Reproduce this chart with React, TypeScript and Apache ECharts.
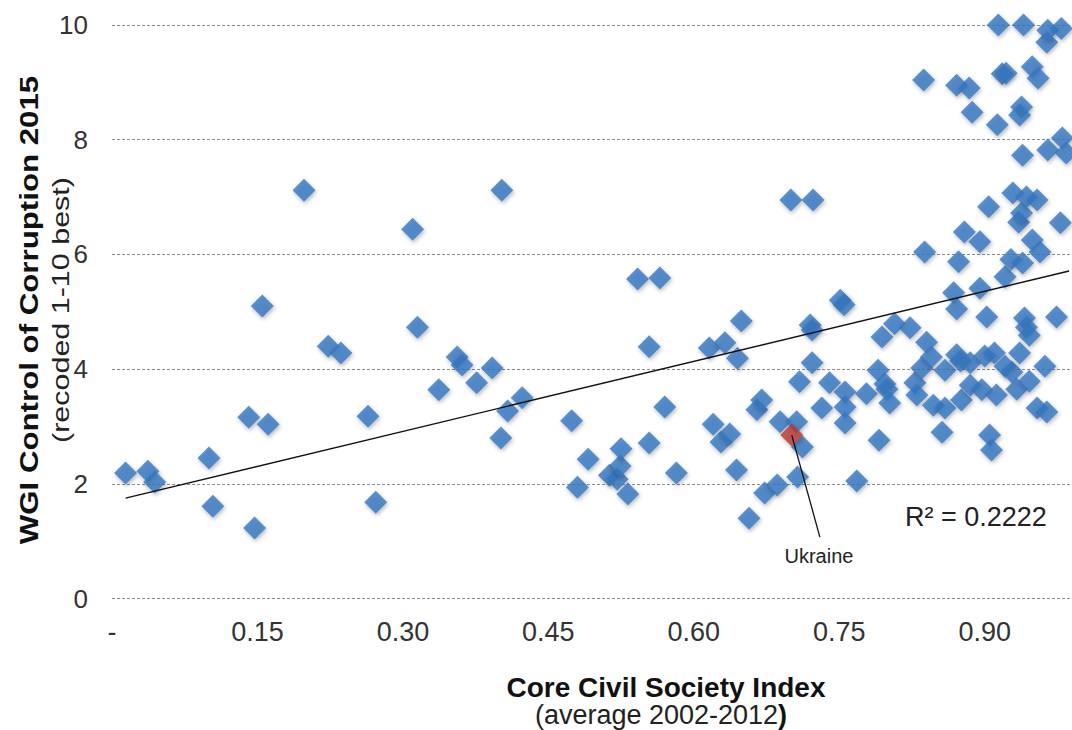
import React, { useEffect, useRef } from "react";
import * as echarts from "echarts";

// Core Civil Society Index (average 2002-2012)
const civilSociety = [
  0.014, 0.037, 0.044, 0.100, 0.104, 0.141, 0.147, 0.155, 0.161, 0.198,
  0.223, 0.236, 0.264, 0.272, 0.310, 0.315, 0.337, 0.356, 0.361, 0.376,
  0.392, 0.401, 0.402, 0.408, 0.423, 0.474, 0.480, 0.491, 0.513, 0.521,
  0.524, 0.525, 0.532, 0.542, 0.554, 0.554, 0.565, 0.570, 0.582, 0.616,
  0.620, 0.628, 0.632, 0.637, 0.644, 0.645, 0.649, 0.657, 0.665, 0.670,
  0.673, 0.686, 0.689, 0.706, 0.707, 0.709, 0.712, 0.720, 0.722, 0.722,
  0.700, 0.723, 0.732, 0.740, 0.751, 0.755, 0.756, 0.756, 0.756, 0.768,
  0.778, 0.790, 0.791, 0.794, 0.797, 0.799, 0.802, 0.807, 0.823, 0.828,
  0.830, 0.835, 0.837, 0.838, 0.840, 0.845, 0.847, 0.856, 0.859, 0.859,
  0.868, 0.871, 0.871, 0.871, 0.873, 0.875, 0.876, 0.879, 0.884, 0.885,
  0.885, 0.887, 0.895, 0.895, 0.897, 0.900, 0.902, 0.905, 0.907, 0.910,
  0.912, 0.913, 0.914, 0.904, 0.918, 0.922, 0.921, 0.921, 0.927, 0.928,
  0.929, 0.933, 0.935, 0.936, 0.938, 0.938, 0.936, 0.939, 0.939, 0.940,
  0.941, 0.943, 0.943, 0.946, 0.946, 0.949, 0.954, 0.955, 0.949, 0.957,
  0.954, 0.962, 0.964, 0.964, 0.965, 0.965, 0.974, 0.978, 0.979, 0.980,
  0.984,
];

// WGI Control of Corruption 2015 (recoded 1-10 best)
const corruption = [
  2.19, 2.22, 2.03, 2.45, 1.61, 3.16, 1.23, 5.10, 3.04, 7.12,
  4.40, 4.28, 3.18, 1.68, 6.44, 4.73, 3.64, 4.21, 4.07, 3.76,
  4.02, 2.80, 7.12, 3.27, 3.50, 3.10, 1.94, 2.43, 2.15, 2.08,
  2.31, 2.61, 1.82, 5.57, 4.39, 2.71, 5.59, 3.34, 2.19, 4.37,
  3.04, 2.73, 4.46, 2.87, 2.24, 4.19, 4.84, 1.40, 3.29, 3.46,
  1.84, 1.98, 3.08, 3.08, 2.12, 3.78, 2.64, 4.77, 4.68, 4.11,
  6.95, 6.95, 3.32, 3.76, 5.20, 5.12, 3.60, 3.34, 3.06, 2.05,
  3.57, 3.98, 2.76, 4.56, 3.74, 3.65, 3.41, 4.79, 4.72, 3.76,
  3.55, 4.02, 9.04, 6.04, 4.47, 4.21, 3.37, 2.90, 3.98, 3.32,
  5.33, 8.95, 5.05, 4.25, 5.87, 4.14, 3.46, 6.39, 8.90, 4.11,
  3.72, 8.48, 6.22, 5.41, 3.64, 4.23, 4.91, 2.85, 2.59, 4.28,
  3.55, 8.26, 10.0, 6.83, 9.15, 9.16, 5.61, 4.05, 5.91, 3.95,
  7.07, 3.65, 6.56, 4.28, 6.72, 8.57, 8.43, 7.73, 5.85, 10.0,
  4.89, 7.00, 4.73, 4.59, 3.79, 9.27, 6.95, 9.07, 6.25, 6.04,
  3.32, 4.05, 3.25, 9.70, 9.91, 7.82, 4.91, 6.55, 9.94, 8.03,
  7.77,
];

const highlightName = "Ukraine";
const highlightCivil = [0.701];
const highlightCorruption = [2.85];
const highlightLabelAt = [0.729, 0.74];
const highlightLeaderEnd = [0.73, 1.07];

const trendIntercept = 1.693;
const trendSlope = 4.07;
const rSquaredText = "R² = 0.2222";

const xAxisMin = 0;
const xAxisMax = 0.99;
const xAxisStep = 0.15;
const yAxisMin = 0;
const yAxisMax = 10;
const yAxisStep = 2;

const yTitle = "WGI Control of Corruption 2015";
const ySubtitle = "(recoded 1-10 best)";
const xTitle = "Core Civil Society Index";
const xSubtitle = "(average 2002-2012";

const FONT = '"Liberation Sans", Arial, sans-serif';

export default function App() {
  const ref = useRef<HTMLDivElement>(null);

  useEffect(() => {
    document.body.style.margin = "0";
    const chart = echarts.init(ref.current!, null, { renderer: "svg" });

    const points = civilSociety.map((x, i) => [x, corruption[i]]);
    const highlight = highlightCivil.map((x, i) => [x, highlightCorruption[i]]);
    const allX = civilSociety.concat(highlightCivil);
    const tMin = Math.min(...allX);
    const tMax = Math.max(...allX) + 0.003;
    const trend = [
      [tMin, trendIntercept + trendSlope * tMin],
      [tMax, trendIntercept + trendSlope * tMax],
    ];

    const markerStyle = {
      color: "#3675c0",
      shadowBlur: 4,
      shadowColor: "rgba(0,0,0,0.35)",
      shadowOffsetX: 1,
      shadowOffsetY: 2,
    };

    chart.setOption({
      animation: false,
      backgroundColor: "#ffffff",
      textStyle: { fontFamily: FONT },
      grid: { left: 112, right: 0, top: 25, bottom: 131.5, containLabel: false },
      xAxis: {
        type: "value",
        min: xAxisMin,
        max: xAxisMax,
        interval: xAxisStep,
        axisLine: { show: false },
        axisTick: { show: false },
        splitLine: { show: false },
        axisLabel: {
          showMaxLabel: false,
          fontSize: 27,
          color: "#333",
          fontFamily: FONT,
          margin: 20,
          formatter: (v: number) => (v === 0 ? "-" : v.toFixed(2)),
        },
      },
      yAxis: {
        type: "value",
        min: yAxisMin,
        max: yAxisMax,
        interval: yAxisStep,
        axisLine: { show: false },
        axisTick: { show: false },
        splitLine: {
          show: true,
          lineStyle: { color: "#8c8c8c", type: [3, 2], width: 1 },
        },
        axisLabel: { fontSize: 26, color: "#333", fontFamily: FONT, margin: 24 },
      },
      series: [
        {
          type: "scatter",
          data: points,
          symbol: "diamond",
          symbolSize: 23,
          itemStyle: markerStyle,
          z: 2,
        },
        {
          type: "scatter",
          name: highlightName,
          data: highlight,
          symbol: "diamond",
          symbolSize: 23,
          itemStyle: { ...markerStyle, color: "#b53a32" },
          z: 3,
          markLine: {
            silent: true,
            symbol: ["none", "none"],
            label: { show: false },
            lineStyle: { color: "#111", width: 1.3, type: "solid" },
            data: [[{ coord: [highlightCivil[0], highlightCorruption[0]] }, { coord: highlightLeaderEnd }]],
            z: 5,
          },
          markPoint: {
            symbol: "circle",
            symbolSize: 1,
            itemStyle: { color: "rgba(0,0,0,0)" },
            label: {
              show: true,
              position: "inside",
              formatter: highlightName,
              fontSize: 20,
              color: "#222",
              fontFamily: FONT,
            },
            data: [{ coord: highlightLabelAt }],
          },
        },
        {
          type: "line",
          data: trend,
          showSymbol: false,
          symbol: "none",
          lineStyle: { color: "#111", width: 1.4 },
          z: 4,
        },
      ],
      graphic: [
        {
          type: "text",
          x: 29,
          y: 310,
          rotation: Math.PI / 2,
          scaleX: 1.25,
          style: {
            text: yTitle,
            font: `bold 25px ${FONT}`,
            fill: "#111",
            textAlign: "center",
            textVerticalAlign: "middle",
            align: "center",
            verticalAlign: "middle",
          },
        },
        {
          type: "text",
          x: 61,
          y: 310,
          rotation: Math.PI / 2,
          scaleX: 1.27,
          style: {
            text: ySubtitle,
            font: `24px ${FONT}`,
            fill: "#222",
            textAlign: "center",
            textVerticalAlign: "middle",
            align: "center",
            verticalAlign: "middle",
          },
        },
        {
          type: "text",
          x: 666,
          y: 687,
          style: {
            text: xTitle,
            font: `bold 28px ${FONT}`,
            fill: "#111",
            textAlign: "center",
            textVerticalAlign: "middle",
            align: "center",
            verticalAlign: "middle",
          },
        },
        {
          type: "text",
          x: 661,
          y: 715,
          style: {
            text: `{n|${xSubtitle}}{b|)}`,
            rich: {
              n: { font: `27px ${FONT}`, fill: "#222" },
              b: { font: `bold 27px ${FONT}`, fill: "#111" },
            },
            textAlign: "center",
            textVerticalAlign: "middle",
            align: "center",
            verticalAlign: "middle",
          },
        },
        {
          type: "text",
          x: 905,
          y: 517,
          style: {
            text: rSquaredText,
            font: `27px ${FONT}`,
            fill: "#222",
            textAlign: "left",
            textVerticalAlign: "middle",
            align: "left",
            verticalAlign: "middle",
          },
        },
      ],
    });

    return () => chart.dispose();
  }, []);

  return <div ref={ref} style={{ width: 1072, height: 730 }} />;
}
